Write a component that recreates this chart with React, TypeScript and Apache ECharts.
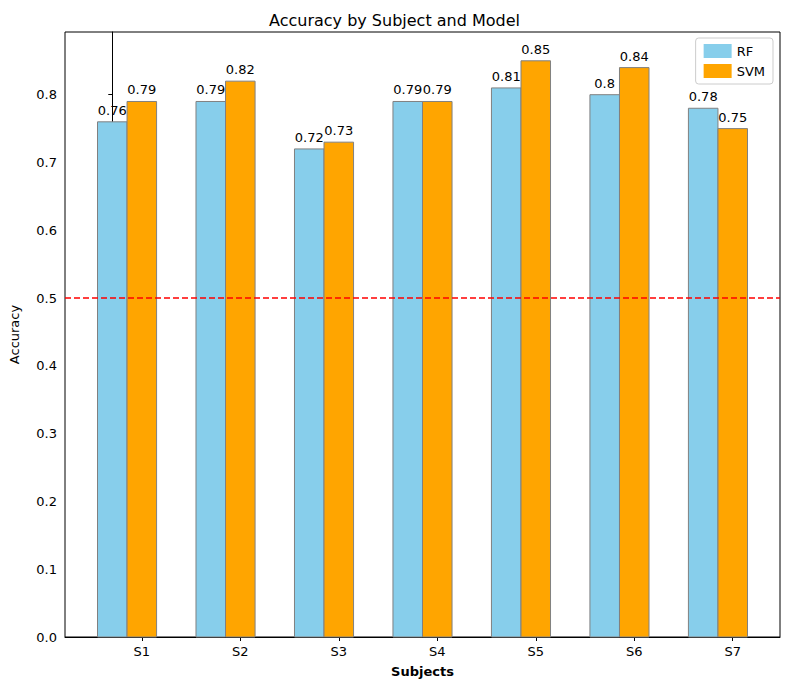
import { useEffect, useRef } from 'react';
import * as echarts from 'echarts';

const subjects = ['S1', 'S2', 'S3', 'S4', 'S5', 'S6', 'S7'];
const rfValues = [0.76, 0.79, 0.72, 0.79, 0.81, 0.8, 0.78];
const svmValues = [0.79, 0.82, 0.73, 0.79, 0.85, 0.84, 0.75];
const barWidth = 0.3;
const threshold = 0.5;

const makeRender = (fill: string) => (params: any, api: any) => {
  const x = api.value(0);
  const y = api.value(1);
  const p0 = api.coord([x - barWidth / 2, y]);
  const p1 = api.coord([x + barWidth / 2, 0]);
  return {
    type: 'group',
    children: [
      {
        type: 'rect',
        shape: { x: p0[0], y: p0[1], width: p1[0] - p0[0], height: p1[1] - p0[1] },
        style: { fill, stroke: '#808080', lineWidth: 1 },
      },
      {
        type: 'text',
        style: {
          text: String(y),
          x: (p0[0] + p1[0]) / 2,
          y: p0[1] - 5,
          align: 'center',
          verticalAlign: 'bottom',
          fontSize: 13,
          fontFamily: 'DejaVu Sans',
          fill: '#000',
        },
      },
    ],
  };
};

export default function App() {
  const chartRef = useRef<HTMLDivElement>(null);

  useEffect(() => {
    document.body.style.margin = '0';
    if (!chartRef.current) return;
    const chart = echarts.init(chartRef.current, null, { renderer: 'svg' });
    const xMin = -0.48;
    const xMax = subjects.length - 1 + barWidth + 0.48;
    chart.setOption({
      animation: false,
      textStyle: { fontFamily: 'DejaVu Sans' },
      title: {
        text: 'Accuracy by Subject and Model',
        left: 'center',
        top: 7,
        textStyle: { fontSize: 16, fontWeight: 'normal', color: '#000' },
      },
      legend: {
        orient: 'vertical',
        right: 16,
        top: 38,
        data: ['RF', 'SVM'],
        icon: 'rect',
        itemWidth: 28,
        itemHeight: 14,
        itemGap: 6,
        borderColor: '#ccc',
        borderWidth: 1,
        borderRadius: 3,
        padding: [6, 8],
        textStyle: { fontSize: 13, color: '#000' },
      },
      grid: {
        left: 61, right: 9, top: 32, bottom: 53,
        show: true, borderColor: '#000', borderWidth: 1,
      },
      xAxis: {
        type: 'value',
        min: xMin,
        max: xMax,
        name: 'Subjects',
        nameLocation: 'middle',
        nameGap: 28,
        nameTextStyle: { fontWeight: 'bold', fontSize: 13, color: '#000' },
        splitLine: { show: false },
        axisLine: { lineStyle: { color: '#000' } },
        axisTick: { customValues: subjects.map((_, i) => i + barWidth), length: 4, lineStyle: { color: '#000' } },
        axisLabel: {
          customValues: subjects.map((_, i) => i + barWidth),
          formatter: (v: number) => subjects[Math.round(v - barWidth)] ?? '',
          fontSize: 13, color: '#000', margin: 8,
        },
      },
      yAxis: {
        type: 'value',
        min: 0,
        max: 0.8925,
        interval: 0.1,
        name: 'Accuracy',
        nameLocation: 'middle',
        nameGap: 44,
        nameTextStyle: { fontSize: 13, color: '#000' },
        splitLine: { show: false },
        axisLine: { show: true, lineStyle: { color: '#000' } },
        axisTick: { show: true, length: 4, lineStyle: { color: '#000' } },
        axisLabel: { fontSize: 13, color: '#000', formatter: (v: number) => v.toFixed(1), showMaxLabel: false },
      },
      series: [
        {
          name: 'RF',
          type: 'custom',
          itemStyle: { color: '#87CEEB', borderColor: '#808080' },
          renderItem: makeRender('#87CEEB'),
          encode: { x: 0, y: 1 },
          data: rfValues.map((v, i) => [i, v]),
        },
        {
          name: 'SVM',
          type: 'custom',
          itemStyle: { color: '#FFA500', borderColor: '#808080' },
          renderItem: makeRender('#FFA500'),
          encode: { x: 0, y: 1 },
          data: svmValues.map((v, i) => [i + barWidth, v]),
        },
        {
          name: 'threshold',
          type: 'line',
          symbol: 'none',
          silent: true,
          lineStyle: { color: '#ff0000', type: [6, 3], width: 1.5 },
          data: [[xMin, threshold], [xMax, threshold]],
          z: 5,
        },
      ],
    });
    return () => chart.dispose();
  }, []);

  return <div ref={chartRef} style={{ width: 789, height: 690 }} />;
}
